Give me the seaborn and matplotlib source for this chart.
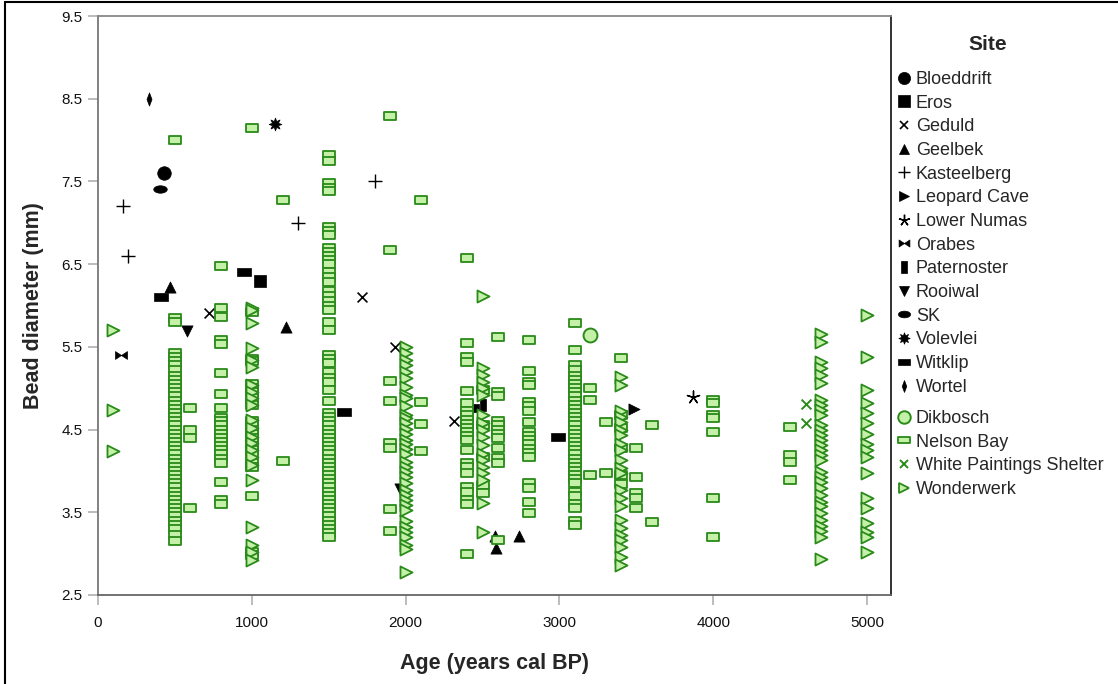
import numpy as np
import pandas as pd
import matplotlib
matplotlib.use("Agg")
import matplotlib.pyplot as plt
from matplotlib.path import Path
from matplotlib.lines import Line2D
import seaborn as sns

# ---------------- data ----------------
bloeddrift_age = [430];  bloeddrift_d = [7.6]
eros_age = [1050];       eros_d = [6.3]
geduld_age = [720, 1715, 1930, 2315]
geduld_d = [5.91, 6.1, 5.5, 4.6]
geelbek_age = [470, 1220, 2580, 2590, 2740]
geelbek_d = [6.22, 5.74, 3.21, 3.07, 3.21]
kasteelberg_age = [160, 195, 1300, 1800]
kasteelberg_d = [7.2, 6.6, 7.0, 7.5]
leopard_age = [3485];    leopard_d = [4.75]
numas_age = [3870];      numas_d = [4.89]
orabes_age = [150];      orabes_d = [5.4]
paternoster_age = [2500]; paternoster_d = [4.8]
rooiwal_age = [580, 1965]
rooiwal_d = [5.69, 3.78]
sk_age = [400];          sk_d = [7.41]
volevlei_age = [1150];   volevlei_d = [8.2]
witklip_age = [410, 950, 1600, 2990, 2430]
witklip_d = [6.1, 6.4, 4.71, 4.41, 4.76]
wortel_age = [330];      wortel_d = [8.5]

dikbosch_age = [3200];   dikbosch_d = [5.64]
wps_age = [4600, 4600];  wps_d = [4.81, 4.58]

# Nelson Bay: one list of diameters per age column
nb_500 = [8.0, 5.85, 5.8, 5.42, 5.38, 5.33, 5.28, 5.22, 5.15, 5.1, 5.05, 5.0, 4.95, 4.9,
          4.85, 4.8, 4.75, 4.7, 4.65, 4.6, 4.55, 4.5, 4.45, 4.4, 4.35, 4.3, 4.25, 4.2, 4.15,
          4.1, 4.05, 4.0, 3.95, 3.9, 3.85, 3.8, 3.75, 3.7, 3.65, 3.6, 3.55, 3.5, 3.45, 3.4,
          3.35, 3.3, 3.22, 3.15]
nb_600 = [4.76, 4.49, 4.40, 3.55]
nb_800 = [6.48, 5.97, 5.86, 5.58, 5.53, 5.18, 4.93, 4.76, 4.64, 4.6, 4.55, 4.5, 4.45, 4.4,
          4.35, 4.3, 4.25, 4.2, 4.15, 4.1, 3.87, 3.65, 3.6]
nb_1000 = [8.15, 5.92, 5.35, 5.33, 5.05, 5.0, 4.95, 4.88, 4.8, 4.6, 4.55, 4.5, 4.45, 4.4,
           4.35, 4.3, 4.25, 4.2, 4.1, 4.05, 3.7, 3.02, 2.98]
nb_1200 = [7.27, 4.12]
nb_1500 = [7.82, 7.75, 7.48, 7.42, 7.38, 6.95, 6.9, 6.85, 6.7, 6.65, 6.6, 6.55, 6.5, 6.4,
           6.35, 6.28, 6.18, 6.12, 6.05, 6.0, 5.95, 5.8, 5.7, 5.4, 5.35, 5.3, 5.2, 5.12,
           5.07, 4.98, 4.85, 4.7, 4.65, 4.6, 4.55, 4.5, 4.45, 4.4, 4.35, 4.3, 4.25, 4.2,
           4.15, 4.1, 4.05, 4.0, 3.95, 3.9, 3.85, 3.8, 3.75, 3.7, 3.65, 3.6, 3.55, 3.5,
           3.45, 3.4, 3.35, 3.3, 3.25, 3.2]
nb_1900 = [8.29, 6.67, 5.09, 4.84, 4.34, 4.28, 3.54, 3.27]
nb_2100 = [7.28, 4.83, 4.57, 4.24]
nb_2400 = [6.58, 5.55, 5.38, 5.32, 4.97, 4.82, 4.72, 4.68, 4.62, 4.57, 4.52, 4.47, 4.42,
           4.37, 4.25, 4.1, 4.05, 3.97, 3.8, 3.75, 3.65, 3.6, 3.0]
nb_2500 = [4.98, 4.55, 4.17, 3.83, 3.73]
nb_2600 = [5.62, 4.95, 4.9, 4.6, 4.55, 4.5, 4.45, 4.4, 4.28, 4.16, 4.1, 3.16]
nb_2800 = [5.58, 5.21, 5.08, 5.04, 4.83, 4.78, 4.72, 4.59, 4.47, 4.42, 4.37, 4.32, 4.27,
           4.22, 4.17, 3.85, 3.79, 3.62, 3.49]
nb_3100 = [5.79, 5.46, 5.28, 5.22, 5.15, 5.1, 5.05, 5.0, 4.95, 4.9, 4.85, 4.8, 4.75, 4.7,
           4.65, 4.6, 4.55, 4.5, 4.45, 4.4, 4.35, 4.3, 4.25, 4.2, 4.15, 4.1, 4.05, 4.0,
           3.95, 3.9, 3.85, 3.75, 3.7, 3.6, 3.55, 3.4, 3.35]
nb_3200 = [5.00, 4.86, 3.95]
nb_3300 = [4.59, 3.97]
nb_3400 = [5.36, 4.68, 4.52, 4.28, 3.95, 3.84]
nb_3500 = [4.28, 3.93, 3.73, 3.67, 3.55]
nb_3600 = [4.55, 3.38]
nb_4000 = [4.86, 4.82, 4.68, 4.64, 4.47, 3.67, 3.20]
nb_4500 = [4.53, 4.19, 4.11, 3.89]

# Wonderwerk: one list per age column
ww_100 = [5.70, 4.74, 4.24]
ww_1000 = [5.97, 5.94, 5.79, 5.49, 5.34, 5.26, 5.04, 4.95, 4.88, 4.80, 4.61, 4.52, 4.41,
           4.34, 4.25, 4.17, 4.07, 3.89, 3.32, 3.10, 3.02, 2.92]
ww_2000 = [5.50, 5.42, 5.34, 5.28, 5.20, 5.12, 5.02, 4.92, 4.88, 4.78, 4.68, 4.64, 4.58,
           4.51, 4.45, 4.37, 4.33, 4.27, 4.21, 4.11, 4.05, 3.99, 3.93, 3.85, 3.77, 3.71,
           3.65, 3.59, 3.53, 3.39, 3.32, 3.26, 3.20, 3.10, 3.06, 2.78]
ww_2500 = [6.11, 5.24, 5.16, 5.08, 5.00, 4.92, 4.68, 4.58, 4.49, 4.41, 4.31, 4.21, 4.13,
           4.05, 3.97, 3.89, 3.61, 3.26]
ww_3400 = [5.14, 5.04, 4.72, 4.65, 4.59, 4.49, 4.43, 4.33, 4.25, 4.13, 4.03, 3.97, 3.77,
           3.67, 3.57, 3.41, 3.31, 3.22, 3.16, 3.08, 2.96, 2.86]
ww_4700 = [5.66, 5.56, 5.32, 5.24, 5.16, 5.06, 4.86, 4.80, 4.74, 4.68, 4.55, 4.49, 4.43,
           4.37, 4.31, 4.25, 4.19, 4.13, 3.99, 3.93, 3.87, 3.79, 3.71, 3.63, 3.57, 3.49,
           3.41, 3.33, 3.27, 3.20, 2.94]
ww_5000 = [5.88, 5.38, 4.98, 4.82, 4.70, 4.58, 4.45, 4.33, 4.25, 4.17, 3.97, 3.67, 3.55,
           3.37, 3.26, 3.20, 3.02]

x_ticks = [0, 1000, 2000, 3000, 4000, 5000]
y_ticks = [2.5, 3.5, 4.5, 5.5, 6.5, 7.5, 8.5, 9.5]

# ---------------- build tables ----------------
def cols_to_rows(site, cols):
    rows = []
    for age, vals in cols:
        for v in vals:
            rows.append((site, age, v))
    return rows

rows = []
simple = {
    "Bloeddrift": (bloeddrift_age, bloeddrift_d), "Eros": (eros_age, eros_d),
    "Geduld": (geduld_age, geduld_d), "Geelbek": (geelbek_age, geelbek_d),
    "Kasteelberg": (kasteelberg_age, kasteelberg_d), "Leopard Cave": (leopard_age, leopard_d),
    "Lower Numas": (numas_age, numas_d), "Orabes": (orabes_age, orabes_d),
    "Paternoster": (paternoster_age, paternoster_d), "Rooiwal": (rooiwal_age, rooiwal_d),
    "SK": (sk_age, sk_d), "Volevlei": (volevlei_age, volevlei_d),
    "Witklip": (witklip_age, witklip_d), "Wortel": (wortel_age, wortel_d),
    "Dikbosch": (dikbosch_age, dikbosch_d), "White Paintings Shelter": (wps_age, wps_d),
}
for site, (a, d) in simple.items():
    rows += list(zip([site] * len(a), a, d))
rows += cols_to_rows("Nelson Bay", [(500, nb_500), (600, nb_600), (800, nb_800), (1000, nb_1000),
                                    (1200, nb_1200), (1500, nb_1500), (1900, nb_1900), (2100, nb_2100),
                                    (2400, nb_2400), (2500, nb_2500), (2600, nb_2600), (2800, nb_2800),
                                    (3100, nb_3100), (3200, nb_3200), (3300, nb_3300), (3400, nb_3400),
                                    (3500, nb_3500), (3600, nb_3600), (4000, nb_4000), (4500, nb_4500)])
rows += cols_to_rows("Wonderwerk", [(100, ww_100), (1000, ww_1000), (2000, ww_2000), (2500, ww_2500),
                                    (3400, ww_3400), (4700, ww_4700), (5000, ww_5000)])
df = pd.DataFrame(rows, columns=["site", "age", "diameter"])

# ---------------- marker shapes ----------------
def closed(verts):
    verts = list(verts) + [verts[0]]
    codes = [Path.MOVETO] + [Path.LINETO] * (len(verts) - 2) + [Path.CLOSEPOLY]
    return Path(verts, codes)

rect_nb = closed([(-1, -0.58), (1, -0.58), (1, 0.58), (-1, 0.58)])
rect_wk = closed([(-1, -0.5), (1, -0.5), (1, 0.5), (-1, 0.5)])
rect_pt = closed([(-0.45, -1), (0.45, -1), (0.45, 1), (-0.45, 1)])
diamond_thin = closed([(0, 1), (0.38, 0), (0, -1), (-0.38, 0)])
uc = Path.unit_circle()
ellipse = Path(uc.vertices * np.array([1.0, 0.55]), uc.codes)
bowtie = Path([(-1, 0.65), (0, 0), (-1, -0.65), (-1, 0.65),
               (1, 0.65), (0, 0), (1, -0.65), (1, 0.65)],
              [Path.MOVETO, Path.LINETO, Path.LINETO, Path.CLOSEPOLY,
               Path.MOVETO, Path.LINETO, Path.LINETO, Path.CLOSEPOLY])

BLACK = "#000000"
GFILL = "#c4f0a8"
GEDGE = "#2a8a1a"

# site: (marker, size, face, edge, lw)
styles = {
    "Bloeddrift": ("o", 95, BLACK, BLACK, 0.5),
    "Eros": ("s", 85, BLACK, BLACK, 0.5),
    "Geduld": ("x", 50, BLACK, BLACK, 1.2),
    "Geelbek": ("^", 65, BLACK, BLACK, 0.5),
    "Kasteelberg": ("+", 90, BLACK, BLACK, 1.0),
    "Leopard Cave": (">", 65, BLACK, BLACK, 0.5),
    "Lower Numas": ((5, 2, 0), 85, BLACK, BLACK, 1.0),
    "Orabes": (bowtie, 75, BLACK, BLACK, 0.5),
    "Paternoster": (rect_pt, 85, BLACK, BLACK, 0.5),
    "Rooiwal": ("v", 65, BLACK, BLACK, 0.5),
    "SK": (ellipse, 95, BLACK, BLACK, 0.5),
    "Volevlei": ((8, 1, 0), 85, BLACK, BLACK, 0.5),
    "Witklip": (rect_wk, 105, BLACK, BLACK, 0.5),
    "Wortel": (diamond_thin, 90, BLACK, BLACK, 0.5),
    "Dikbosch": ("o", 100, GFILL, GEDGE, 1.4),
    "Nelson Bay": (rect_nb, 85, GFILL, GEDGE, 1.3),
    "White Paintings Shelter": ("x", 50, GEDGE, GEDGE, 1.4),
    "Wonderwerk": (">", 75, GFILL, GEDGE, 1.3),
}
black_sites = ["Bloeddrift", "Eros", "Geduld", "Geelbek", "Kasteelberg", "Leopard Cave",
               "Lower Numas", "Orabes", "Paternoster", "Rooiwal", "SK", "Volevlei",
               "Witklip", "Wortel"]
green_sites = ["Dikbosch", "Nelson Bay", "White Paintings Shelter", "Wonderwerk"]

def is_line_marker(m):
    return m in ("x", "+") or (isinstance(m, tuple) and m[1] == 2)

# ---------------- plot ----------------
sns.set_theme(style="white")
plt.rcParams["font.family"] = ["Liberation Sans", "DejaVu Sans"]

fig = plt.figure(figsize=(11.18, 6.84), dpi=100)
ax = fig.add_axes([98 / 1118, 1 - 595 / 684, (891 - 98) / 1118, (595 - 16) / 684])

for site in black_sites + green_sites:
    m, s, fc, ec, lw = styles[site]
    sub = df[df["site"] == site]
    kw = dict(marker=m, s=s, linewidth=lw, color=fc)
    if not is_line_marker(m):
        kw["edgecolor"] = ec
    sns.scatterplot(data=sub, x="age", y="diameter", ax=ax, legend=False, zorder=3, **kw)

ax.set_xlim(0, 5155)
ax.set_ylim(2.5, 9.5)
ax.set_xticks(x_ticks)
ax.set_yticks(y_ticks)
ax.set_yticklabels([f"{v:.1f}" for v in y_ticks])
ax.tick_params(axis="both", which="major", bottom=True, left=True, direction="out",
               length=7, width=1.2, color="#b0b0b0", labelsize=11,
               labelcolor="#111111", pad=4)
ax.tick_params(axis="x", pad=8)
for name, sp in ax.spines.items():
    sp.set_linewidth(1.3)
ax.spines["left"].set_color("#777777")
ax.spines["bottom"].set_color("#666666")
ax.spines["top"].set_color("#888888")
ax.spines["right"].set_color("#222222")

ax.set_xlabel("Age (years cal BP)", fontsize=15.5, fontweight="bold", labelpad=17)
ax.set_ylabel("Bead diameter (mm)", fontsize=15.5, fontweight="bold", labelpad=13)

# ---------------- legends ----------------
def handle(site):
    m, s, fc, ec, lw = styles[site]
    ms = np.sqrt(s) * 0.9
    if is_line_marker(m):
        return Line2D([], [], linestyle="none", marker=m, markersize=ms, color=fc,
                      markeredgewidth=lw)
    return Line2D([], [], linestyle="none", marker=m, markersize=ms, markerfacecolor=fc,
                  markeredgecolor=ec, markeredgewidth=lw)

leg_kw = dict(frameon=False, fontsize=13, handlelength=0.75, handletextpad=0.3,
              labelspacing=0.37, borderpad=0, borderaxespad=0)
fig.text(988 / 1118, 1 - 45 / 684, "Site", ha="center", va="center",
         fontsize=15, fontweight="bold")
leg1 = fig.legend([handle(s) for s in black_sites], black_sites, loc="upper left",
                  bbox_to_anchor=(897 / 1118, 1 - 71 / 684), **leg_kw)
leg2 = fig.legend([handle(s) for s in green_sites], green_sites, loc="upper left",
                  bbox_to_anchor=(897 / 1118, 1 - 410 / 684), **leg_kw)

# figure border (left and top)
fig.add_artist(Line2D([5 / 1118, 5 / 1118], [0, 1 - 2 / 684], color="black", lw=1.5))
fig.add_artist(Line2D([5 / 1118, 1], [1 - 2 / 684, 1 - 2 / 684], color="black", lw=1.5))

fig.savefig("out.png", dpi=100)
